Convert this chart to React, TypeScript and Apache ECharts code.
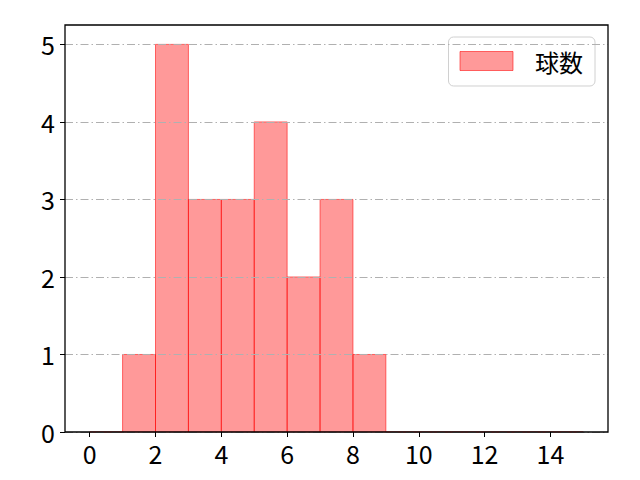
import { useEffect, useRef } from "react";
import * as echarts from "echarts";

// histogram bins: [binStarts[i], binStarts[i] + 1)
const binStarts = [0, 1, 2, 3, 4, 5, 6, 7, 8, 9, 10, 11, 12, 13, 14];
const counts = [0, 1, 5, 3, 3, 4, 2, 3, 1, 0, 0, 0, 0, 0, 0];
const xTicks = [0, 2, 4, 6, 8, 10, 12, 14];
const yTicks = [0, 1, 2, 3, 4, 5];
const seriesName = "球数";

const FONT = "'Noto Sans CJK JP', 'Noto Sans', sans-serif";
const FILL = "rgba(255, 0, 0, 0.4)";
const EDGE = "rgba(255, 0, 0, 0.55)";

export default function App(): JSX.Element {
  const ref = useRef<HTMLDivElement | null>(null);

  useEffect(() => {
    const el = ref.current;
    if (!el) return;
    const chart = echarts.init(el, undefined, { renderer: "svg" });
    chart.setOption({
      animation: false,
      backgroundColor: "#ffffff",
      grid: {
        left: 65,
        right: 32,
        top: 25,
        bottom: 48,
        show: true,
        z: 10,
        backgroundColor: "transparent",
        borderColor: "#000",
        borderWidth: 1.3,
      },
      legend: {
        right: 45,
        top: 37,
        padding: [12, 12, 13, 11],
        borderColor: "#d0d0d0",
        borderWidth: 1,
        borderRadius: 5,
        itemWidth: 53,
        itemHeight: 19,
        icon: "rect",
        textStyle: { fontFamily: FONT, fontSize: 24, color: "#000", padding: [0, 0, 0, 17] },
        data: [{ name: seriesName, itemStyle: { color: FILL, borderColor: EDGE, borderWidth: 1 } }],
      },
      xAxis: {
        type: "value",
        min: -0.75,
        max: 15.75,
        z: 6,
        splitLine: { show: false },
        axisLine: { show: false, onZero: false },
        axisTick: { show: true, length: 5, customValues: xTicks, lineStyle: { color: "#000" } },
        axisLabel: { customValues: xTicks, fontFamily: FONT, fontSize: 25, color: "#000", margin: 8 },
      },
      yAxis: {
        type: "value",
        min: 0,
        max: 5.25,
        z: 5,
        splitLine: { show: true, lineStyle: { color: "#b0b0b0", width: 1, type: [8, 3, 1.5, 3] } },
        axisLine: { show: false, onZero: false },
        axisTick: { show: true, length: 5, customValues: yTicks, lineStyle: { color: "#000" } },
        axisLabel: { customValues: yTicks, fontFamily: FONT, fontSize: 25, color: "#000", margin: 10 },
      },
      series: [
        {
          name: seriesName,
          type: "custom",
          data: binStarts.map((x, i) => [x, x + 1, counts[i]]),
          encode: { x: [0, 1], y: 2 },
          renderItem: (params: any, api: any) => {
            const p0 = api.coord([api.value(0), 0]);
            const p1 = api.coord([api.value(1), api.value(2)]);
            return {
              type: "rect",
              shape: { x: p0[0], y: p1[1], width: p1[0] - p0[0], height: p0[1] - p1[1] },
              style: { fill: FILL, stroke: EDGE, lineWidth: 1 },
            };
          },
          itemStyle: { color: FILL, borderColor: EDGE },
          z: 2,
        },
      ],
    });
    return () => chart.dispose();
  }, []);

  return <div ref={ref} style={{ position: "fixed", left: 0, top: 0, width: 640, height: 480 }} />;
}
